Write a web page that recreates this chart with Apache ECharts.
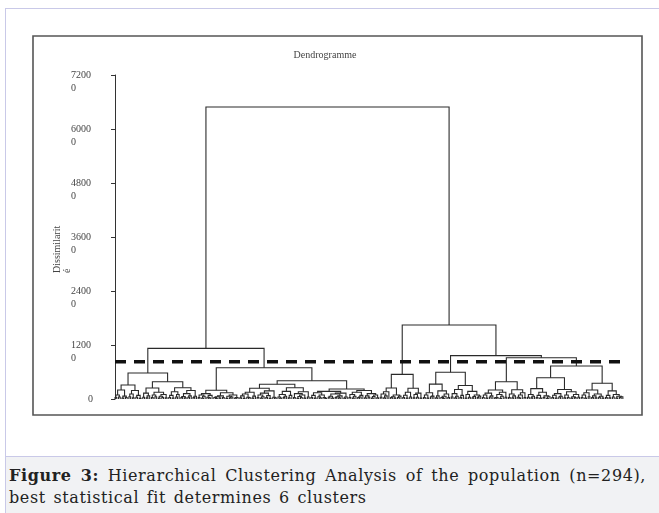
<!DOCTYPE html>
<html>
<head>
<meta charset="utf-8">
<title>Dendrogramme</title>
<script src="https://cdn.jsdelivr.net/npm/echarts@6/dist/echarts.min.js"></script>
<style>
  html, body { margin: 0; padding: 0; background: #fff; }
  body { width: 659px; height: 513px; position: relative; overflow: hidden; }
  #panel { position: absolute; left: 5px; top: 8px; width: 654px; height: 505px;
           border-left: 1px solid #c9c9e8; border-top: 1px solid #c9c9e8; box-sizing: border-box; }
  #chart { position: absolute; left: 0; top: 0; width: 659px; height: 456px; }
  #caption { position: absolute; left: 5px; top: 456px; width: 654px; height: 57px;
             background: #f1f2f4; border-top: 1px solid #c9c9e8; border-left: 1px solid #c9c9e8;
             box-sizing: border-box; padding: 8px 0 0 3px;
             font-family: "DejaVu Serif", serif; font-size: 16px; line-height: 22px;
             color: #222; letter-spacing: 0.6px; word-spacing: 2px; }
  #caption .l1 { width: 637px; white-space: nowrap; text-align: justify; text-align-last: justify; }
</style>
</head>
<body>
<div id="panel"></div>
<div id="chart"></div>
<div id="caption">
  <div class="l1"><b>Figure 3:</b> Hierarchical Clustering Analysis of the population (n=294),</div>
  <div>best statistical fit determines 6 clusters</div>
</div>
<script>
// Dissimilarity axis ticks
const yTicks = [0, 12000, 24000, 36000, 48000, 60000, 72000];
const cutHeight = 8300;   // truncation level giving 6 clusters

// Merge heights between neighbouring observations, branch by branch (ordered dendrogram)
const c1a = [300, 900, 450, 2000, 200, 650, 350, 3100, 500, 1100, 250, 1900, 400, 800, 150];
const c1b = [400, 1300, 250, 700, 2450, 300, 900, 500, 1500, 200, 600, 350, 1000, 250];
const c1c = [350, 800, 200, 1600, 450, 1000, 2500, 300, 550, 250, 1200, 400, 700, 1900, 300, 600];
const c2a = [300, 900, 200, 600, 1200, 400, 250, 800, 1950, 350, 150, 500, 200, 700, 300, 1400, 150, 600, 250, 450, 900, 200, 350];
const c2b = [250, 700, 150, 1100, 400, 300, 1500, 200, 650, 2400, 350, 900, 200, 500, 1300, 300, 750, 150, 1800, 400, 250];
const c2c = [450, 200, 1000, 300, 600, 1700, 250, 800, 2500, 300, 1200, 150, 550, 350, 900, 200, 1600, 450];
const c2d = [300, 800, 200, 1400, 500, 250, 900, 350, 150, 1700, 400, 600, 200, 1100, 300, 500, 250, 700, 1300, 200, 450];
const c2e = [350, 1000, 200, 600, 1500, 300, 450, 800, 1900, 250, 700, 400, 1200, 200, 550, 900, 250];
const c3a = [400, 1100, 250, 700, 1600, 2450, 300, 500, 200, 900, 350, 650];
const c3b = [300, 850, 200, 1500, 450, 2400, 250, 1000, 400, 1300, 200];
const c4a = [300, 900, 200, 1400, 500, 650, 3300, 250, 700, 1800, 350, 150, 600, 1100, 300];
const c4b = [450, 1200, 250, 600, 2100, 300, 800, 3000, 200, 1000, 400, 1700, 250, 550, 900, 300, 650];
const c5a = [350, 900, 200, 1300, 450, 700, 2000, 250, 300, 1000, 150, 600, 1500, 400];
const c5b = [300, 1100, 250, 700, 2050, 400, 200, 900, 1400, 350];
const c6a = [400, 1000, 250, 600, 2300, 300, 800, 200, 1500, 350, 700, 150, 500];
const c6b = [300, 850, 200, 1200, 450, 600, 2100, 250, 900, 350, 1600, 200, 500, 300, 1000, 400];
const c6c = [350, 900, 200, 1400, 500, 2000, 300, 700, 250, 1100, 400, 600, 200];
const c6d = [300, 800, 250, 1800, 450, 1000, 200, 600, 350, 500];

// Heights joining the branches inside each cluster
const c1Joins = [5780, 3850];
const c2Joins = [6950, 3270, 4060, 2220];
const c3Joins = [5470];
const c4Joins = [5930];
const c5Joins = [3850];
const c6Joins = [4730, 7330, 3490];
// Heights joining the six clusters, left to right
const clusterJoins = [11260, 64900, 16440, 9630, 9180];

function interleave(parts, joins) {
  const out = [];
  parts.forEach((p, i) => { out.push(...p); if (i < joins.length) out.push(joins[i]); });
  return out;
}

const clusters = [
  interleave([c1a, c1b, c1c], c1Joins),
  interleave([c2a, c2b, c2c, c2d, c2e], c2Joins),
  interleave([c3a, c3b], c3Joins),
  interleave([c4a, c4b], c4Joins),
  interleave([c5a, c5b], c5Joins),
  interleave([c6a, c6b, c6c, c6d], c6Joins)
];
const gaps = interleave(clusters, clusterJoins);
const nLeaves = gaps.length + 1;

// Rebuild the binary tree: each span splits at its largest neighbour gap
const segments = [];
function build(lo, hi) {
  if (lo === hi) return { x: lo, h: 0 };
  let k = lo;
  for (let i = lo; i < hi; i++) if (gaps[i] > gaps[k]) k = i;
  const L = build(lo, k), R = build(k + 1, hi);
  const h = gaps[k];
  segments.push([[L.x, L.h], [L.x, h], [R.x, h], [R.x, R.h]]);
  return { x: (L.x + R.x) / 2, h: h };
}
build(0, nLeaves - 1);

const labelFont = '"Liberation Serif", "Times New Roman", serif';
const chart = echarts.init(document.getElementById('chart'), null, { renderer: 'canvas' });
chart.setOption({
  animation: false,
  backgroundColor: 'transparent',
  grid: { left: 97, top: 75, width: 538, height: 324 },
  xAxis: { type: 'value', min: -10.4, max: 300, show: false },
  yAxis: {
    type: 'value', min: yTicks[0], max: yTicks[yTicks.length - 1], interval: 12000,
    axisLine: { show: true, lineStyle: { color: '#333', width: 1 } },
    axisTick: { show: true, length: 4, lineStyle: { color: '#333' } },
    splitLine: { show: false },
    axisLabel: {
      margin: 4,
      formatter: function (v) {
        if (v === 0) return '{z|0}';
        const s = String(v);
        return '{e| }\n{a|' + s.slice(0, 4) + '}\n{a|' + s.slice(4) + '}';
      },
      rich: {
        a: { fontFamily: labelFont, fontSize: 10, color: '#444', width: 22, align: 'left', lineHeight: 13 },
        e: { fontFamily: labelFont, fontSize: 10, color: '#444', width: 22, align: 'left', lineHeight: 13 },
        z: { fontFamily: labelFont, fontSize: 10, color: '#444', lineHeight: 13 }
      }
    }
  },
  graphic: [
    { type: 'rect', shape: { x: 33, y: 36, width: 609, height: 379 },
      style: { fill: 'none', stroke: '#555', lineWidth: 1.6 }, silent: true },
    { type: 'text', x: 325, y: 55,
      style: { text: 'Dendrogramme', font: '10px ' + labelFont, fill: '#444', align: 'center', verticalAlign: 'middle' } },
    { type: 'text', x: 52, y: 273, rotation: Math.PI / 2,
      style: { text: 'Dissimilarit\né', font: '10px ' + labelFont, fill: '#444', align: 'left', verticalAlign: 'top', lineHeight: 10 } }
  ],
  series: [
    {
      type: 'lines', coordinateSystem: 'cartesian2d', polyline: true, silent: true,
      lineStyle: { color: '#2a2a2a', width: 1.1, opacity: 1 },
      data: segments.map(c => ({ coords: c }))
    },
    {
      type: 'line', symbol: 'none', silent: true,
      lineStyle: { color: '#111', width: 3.5, type: [11, 8] },
      data: [[0, cutHeight], [nLeaves - 1, cutHeight]]
    }
  ]
});
</script>
</body>
</html>
